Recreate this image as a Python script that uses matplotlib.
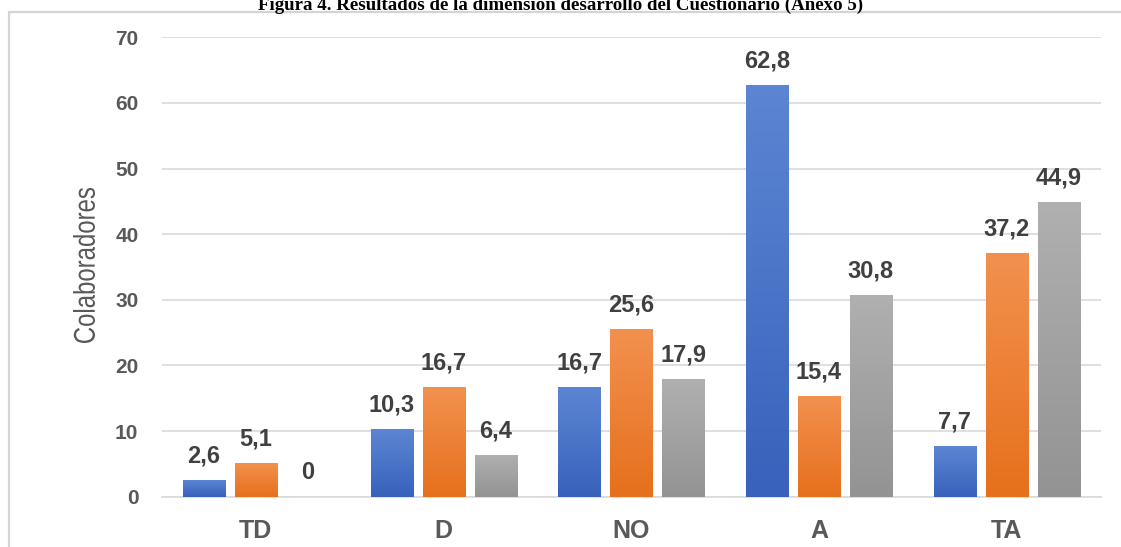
import numpy as np
import matplotlib
matplotlib.use("Agg")
import matplotlib.pyplot as plt
from matplotlib.colors import LinearSegmentedColormap
from matplotlib.patches import Rectangle, PathPatch
from matplotlib.textpath import TextPath
from matplotlib.font_manager import FontProperties
from matplotlib.transforms import Affine2D, IdentityTransform

# respuestas por categoría (porcentaje de colaboradores)
categorias = ["TD", "D", "NO", "A", "TA"]
serie_1 = [2.6, 10.3, 16.7, 62.8, 7.7]
serie_2 = [5.1, 16.7, 25.6, 15.4, 37.2]
serie_3 = [0, 6.4, 17.9, 30.8, 44.9]
y_ticks = [0, 10, 20, 30, 40, 50, 60, 70]

titulo = "Figura 4. Resultados de la dimensión desarrollo del Cuestionario (Anexo 5)"
eje_y = "Colaboradores"

# degradado de arriba (claro) a abajo (oscuro) para cada serie
colores = [("#5c86d3", "#3862bb"), ("#f2914f", "#e6701c"), ("#b0b0b0", "#939393")]

sans = ["Liberation Sans", "DejaVu Sans"]
gris_texto = "#595959"
W, H = 1121, 547


def texto_estrecho(fig, s, cx, cy, largo, alto, color):
    """Texto vertical comprimido (tipo Arial Narrow) centrado en (cx, cy) píxeles."""
    tp = TextPath((0, 0), s, size=100, prop=FontProperties(family=sans))
    ext = tp.get_extents()
    t = (Affine2D()
         .translate(-(ext.x0 + ext.x1) / 2, -(ext.y0 + ext.y1) / 2)
         .scale(largo / ext.width, alto / ext.height)
         .rotate_deg(90)
         .translate(cx, H - cy))
    patch = PathPatch(t.transform_path(tp), facecolor=color, edgecolor="none",
                      transform=IdentityTransform())
    fig.add_artist(patch)


fig = plt.figure(figsize=(W / 100, H / 100), dpi=100)
fig.patch.set_facecolor("white")

# marco gris del gráfico
fig.patches.append(Rectangle((9 / W, -0.05), 1.2, 1 - 12 / H + 0.05,
                             transform=fig.transFigure, fill=False,
                             edgecolor="#d4d4d4", linewidth=1.6))

fig.text(0.5, 1 - 10 / H, titulo, ha="center", va="baseline",
         fontsize=13.6, fontweight="bold", family=["Liberation Serif", "DejaVu Serif"])

ax = fig.add_axes([162 / W, 1 - 496.7 / H, (1100.5 - 162) / W, (496.7 - 37.3) / H])

x = np.arange(len(categorias))
ancho = 0.224
paso = 0.277

for k, valores in enumerate([serie_1, serie_2, serie_3]):
    top, bottom = colores[k]
    cmap = LinearSegmentedColormap.from_list("g%d" % k, [bottom, top])
    grad = np.linspace(0, 1, 256).reshape(-1, 1)
    for i, v in enumerate(valores):
        xc = x[i] + (k - 1) * paso
        bar = ax.bar(xc, v, width=ancho, color=bottom, zorder=3)[0]
        if v > 0:
            im = ax.imshow(grad, cmap=cmap, origin="lower", aspect="auto",
                           extent=(xc - ancho / 2, xc + ancho / 2, 0, v), zorder=3.1)
            im.set_clip_path(bar)
        etiqueta = ("%.1f" % v).replace(".", ",") if v != 0 else "0"
        ax.annotate(etiqueta, (xc, v), xytext=(0, 9), textcoords="offset points",
                    ha="center", va="bottom", fontsize=17, fontweight="bold",
                    color="#404040", family=sans, zorder=5)

ax.set_xlim(-0.5, len(categorias) - 0.5)
ax.set_ylim(0, 70)

ax.set_yticks(y_ticks)
ax.set_yticklabels([str(t) for t in y_ticks], family=sans, fontweight="bold",
                   fontsize=15, color=gris_texto)
ax.set_xticks(x)
ax.set_xticklabels(categorias, family=sans, fontweight="bold",
                   fontsize=18, color=gris_texto)
ax.tick_params(axis="y", length=0, pad=17)
ax.tick_params(axis="x", length=0, pad=16)

ax.grid(axis="y", color="#d9d9d9", linewidth=1.2, zorder=0)
ax.set_axisbelow(True)
for s in ["top", "right", "left"]:
    ax.spines[s].set_visible(False)
ax.spines["bottom"].set_color("#d9d9d9")
ax.spines["bottom"].set_linewidth(1.2)

texto_estrecho(fig, eje_y, 84, 265.5, 155, 22, gris_texto)

fig.savefig("out.png", dpi=100, facecolor="white")
